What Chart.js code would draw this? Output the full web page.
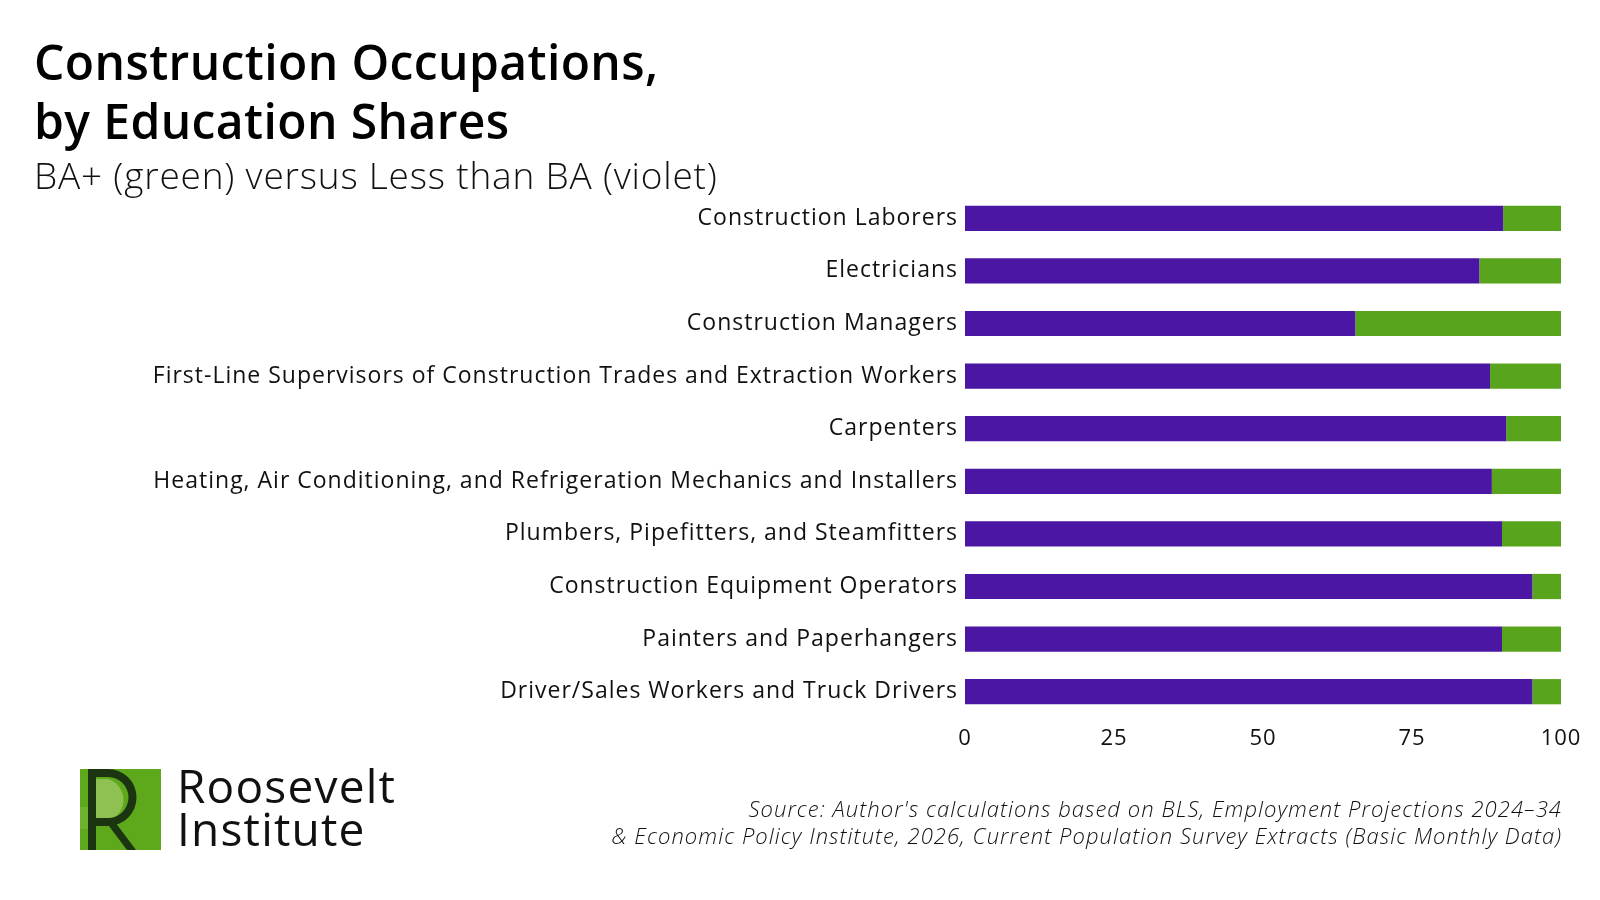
<!DOCTYPE html>
<html>
<head>
<meta charset="utf-8">
<script src="https://cdn.jsdelivr.net/npm/chart.js@4/dist/chart.umd.min.js"></script>
<style>
  html, body { margin: 0; padding: 0; background: #fff; }
  #wrap { position: relative; width: 1600px; height: 900px; overflow: hidden; font-family: "Open Sans", Lato, sans-serif; }
  #c { position: absolute; left: 0; top: 0; }
  .title { position: absolute; left: 34px; top: 32px; font-size: 48px; font-weight: 600; line-height: 59px; color: #000; letter-spacing: 0.4px; }
  .subtitle { position: absolute; left: 34px; top: 149px; font-size: 37px; font-weight: 300; color: #111; letter-spacing: 0.8px; }
  .source { position: absolute; right: 38px; top: 795px; font-size: 22px; font-style: italic; font-weight: 300; color: #111; text-align: right; line-height: 27px; letter-spacing: 1.05px; }
  .logo { position: absolute; left: 80px; top: 769px; }
  .logotext { position: absolute; left: 177px; top: 764px; font-size: 46px; font-weight: 500; line-height: 43px; color: #111; letter-spacing: 1.2px; }
</style>
</head>
<body>
<div id="wrap">
  <canvas id="c" width="1600" height="900"></canvas>
  <div class="title">Construction Occupations,<br>by Education Shares</div>
  <div class="subtitle">BA+ (green) versus Less than BA (violet)</div>
  <div class="source">Source: Author's calculations based on BLS, Employment Projections 2024–34<br>&amp; Economic Policy Institute, 2026, Current Population Survey Extracts (Basic Monthly Data)</div>
  <svg class="logo" width="81" height="81" viewBox="0 0 81 81">
    <rect x="0" y="0" width="81" height="81" fill="#5ea81c"/>
    <path d="M12 10 L28 10 A22 22 0 0 1 28 52 L12 52 Z" fill="#8fc152"/>
    <path d="M0 38 L14 38 L14 60 L0 60 Z" fill="#6fb22e"/>
    <path d="M8 0 L8 81 L16 81 L16 57 L28 57 A28.5 28.5 0 0 0 28 0 Z M16 8 L28 8 A20.5 20.5 0 0 1 28 49 L16 49 Z" fill="#1b3510" fill-rule="evenodd"/>
    <path d="M26 53 L35 53 L56 81 L47 81 Z" fill="#1b3510"/>
  </svg>
  <div class="logotext">Roosevelt<br>Institute</div>
</div>
<script>
const categories = [
  "Construction Laborers",
  "Electricians",
  "Construction Managers",
  "First-Line Supervisors of Construction Trades and Extraction Workers",
  "Carpenters",
  "Heating, Air Conditioning, and Refrigeration Mechanics and Installers",
  "Plumbers, Pipefitters, and Steamfitters",
  "Construction Equipment Operators",
  "Painters and Paperhangers",
  "Driver/Sales Workers and Truck Drivers"
];
const lessThanBA = [90.3, 86.3, 65.5, 88.1, 90.8, 88.4, 90.1, 95.2, 90.1, 95.2];
const baPlus = [9.7, 13.7, 34.5, 11.9, 9.2, 11.6, 9.9, 4.8, 9.9, 4.8];
const xTicks = [0, 25, 50, 75, 100];

const spacingPlugin = {
  id: 'spacing',
  beforeDraw(chart) { chart.ctx.letterSpacing = '1px'; }
};

const ctx = document.getElementById('c').getContext('2d');
new Chart(ctx, {
  type: 'bar',
  plugins: [spacingPlugin],
  data: {
    labels: categories,
    datasets: [
      { label: 'Less than BA', data: lessThanBA, backgroundColor: '#4b16a3', barPercentage: 0.48, categoryPercentage: 1.0 },
      { label: 'BA+', data: baPlus, backgroundColor: '#58a41c', barPercentage: 0.48, categoryPercentage: 1.0 }
    ]
  },
  options: {
    indexAxis: 'y',
    responsive: false,
    animation: false,
    layout: { padding: { left: 0, right: 39, top: 192, bottom: 142 } },
    plugins: { legend: { display: false }, tooltip: { enabled: false } },
    scales: {
      x: {
        stacked: true, min: 0, max: 100,
        grid: { display: false, drawTicks: false },
        border: { display: false },
        afterBuildTicks: (s) => { s.ticks = xTicks.map(v => ({ value: v })); },
        afterFit: (s) => { s.height = 40; },
        ticks: { padding: 8, color: '#111', font: { family: '"Open Sans"', size: 22 } }
      },
      y: {
        stacked: true,
        grid: { display: false, drawTicks: false },
        border: { display: false },
        afterFit: (s) => { s.width = 965; },
        ticks: { padding: 7, color: '#111', font: { family: '"Open Sans"', size: 23 } }
      }
    }
  }
});
</script>
</body>
</html>
